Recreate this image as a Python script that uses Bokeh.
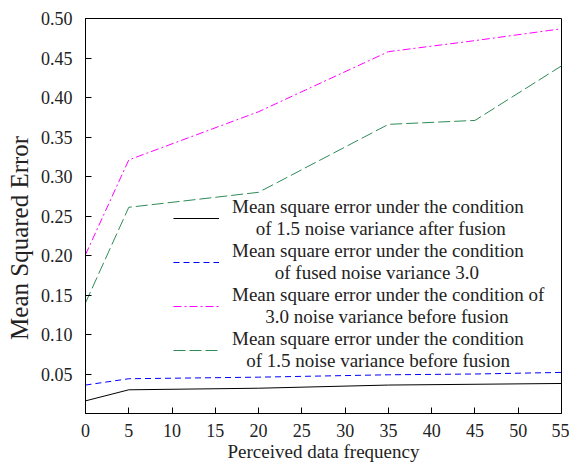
from bokeh.plotting import figure
from bokeh.models import Legend, LegendItem, FixedTicker, Range1d
from bokeh.embed import file_html
from bokeh.resources import INLINE

freq = [0, 5, 20, 35, 45, 55]
mse_after_15 = [0.016, 0.030, 0.032, 0.036, 0.037, 0.038]
mse_fused_30 = [0.036, 0.044, 0.046, 0.049, 0.050, 0.052]
mse_before_30 = [0.201, 0.321, 0.382, 0.458, 0.472, 0.487]
mse_before_15 = [0.140, 0.261, 0.280, 0.366, 0.371, 0.440]

x_ticks = [0, 5, 10, 15, 20, 25, 30, 35, 40, 45, 50, 55]
y_ticks = [0.05, 0.10, 0.15, 0.20, 0.25, 0.30, 0.35, 0.40, 0.45, 0.50]
y_tick_labels = ["0.05", "0.10", "0.15", "0.20", "0.25", "0.30", "0.35", "0.40", "0.45", "0.50"]

NB = "\u00a0"
labels = [
    "Mean square error under the condition\n" + NB * 5 + "of 1.5 noise variance after fusion",
    "Mean square error under the condition\n" + NB * 9 + "of fused noise variance 3.0",
    "Mean square error under the condition of\n" + NB * 7 + "3.0 noise variance before fusion",
    "Mean square error under the condition\n" + NB * 3 + "of 1.5 noise variance before fusion",
]

FONT = "Liberation Serif"
TXT = "#222222"

p = figure(width=569, height=465, output_backend="svg", toolbar_location=None,
           x_range=Range1d(0, 55), y_range=Range1d(0, 0.5),
           min_border_left=85, min_border_right=8, min_border_top=18, min_border_bottom=52)
p.grid.visible = False
p.outline_line_color = "black"
p.outline_line_width = 1
p.background_fill_color = "white"
p.border_fill_color = "white"

r1 = p.line(freq, mse_after_15, color="black", line_width=1)
r2 = p.line(freq, mse_fused_30, color="blue", line_width=1, line_dash="6 4")
r3 = p.line(freq, mse_before_30, color="magenta", line_width=1, line_dash="8 3 2 3")
r4 = p.line(freq, mse_before_15, color="seagreen", line_width=1, line_dash="12 4")

p.xaxis.ticker = FixedTicker(ticks=x_ticks)
p.yaxis.ticker = FixedTicker(ticks=y_ticks)
p.yaxis.major_label_overrides = {t: l for t, l in zip(y_ticks, y_tick_labels)}

for ax in (p.xaxis, p.yaxis):
    ax.major_tick_in = 6
    ax.major_tick_out = 0
    ax.minor_tick_in = 0
    ax.minor_tick_out = 0
    ax.axis_line_color = "black"
    ax.major_tick_line_color = "black"
    ax.major_label_text_font = FONT
    ax.major_label_text_font_size = "18px"
    ax.major_label_text_color = TXT
    ax.axis_label_text_font = FONT
    ax.axis_label_text_font_style = "normal"
    ax.axis_label_text_color = TXT

p.xaxis.axis_label = "Perceived data frequency"
p.yaxis.axis_label = "Mean Squared Error" + NB * 7
p.xaxis.axis_label_text_font_size = "19px"
p.yaxis.axis_label_text_font_size = "25px"
p.xaxis.major_label_text_line_height = 1.0
p.xaxis.axis_label_text_line_height = 1.0
p.xaxis.major_label_standoff = 10
p.xaxis.axis_label_standoff = 1
p.yaxis.major_label_standoff = 13
p.yaxis.axis_label_standoff = 5

legend = Legend(items=[LegendItem(label=l, renderers=[r]) for l, r in zip(labels, [r1, r2, r3, r4])],
                location=(88, 41), padding=0, margin=0, spacing=0,
                border_line_alpha=0, background_fill_alpha=0,
                glyph_width=46, label_standoff=13,
                label_text_font=FONT, label_text_font_size="19px",
                label_text_line_height=1.13,
                label_text_color=TXT)
p.add_layout(legend, "center")

open("out.html", "w").write(file_html(p, INLINE))
